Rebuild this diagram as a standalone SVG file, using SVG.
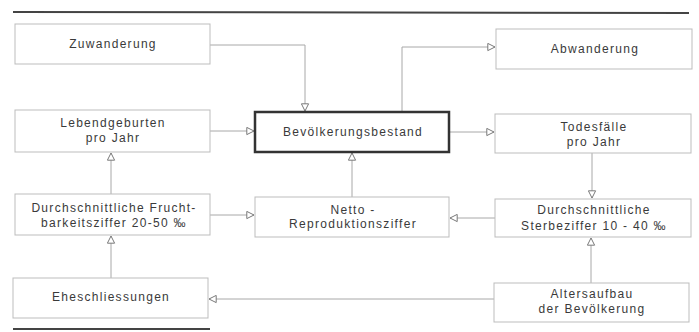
<svg xmlns="http://www.w3.org/2000/svg" width="699" height="332" viewBox="0 0 699 332">
<defs>
<style>
.box{fill:#fff;stroke:#bdbdbd;stroke-width:1}
.main{fill:#fff;stroke:#333;stroke-width:2.5}
.t{font-family:"Liberation Sans",Arial,sans-serif;font-size:12px;letter-spacing:1.3px;fill:#3a3a3a;text-anchor:middle}
.c{fill:none;stroke:#a8a8a8;stroke-width:1}
.rule{stroke:#444;stroke-width:2}
</style>
<marker id="a" viewBox="0 0 10 10" refX="9" refY="5" markerWidth="9" markerHeight="9" markerUnits="userSpaceOnUse" orient="auto">
<path d="M1,1 L9,5 L1,9 Z" fill="#fff" stroke="#777" stroke-width="1.1"/>
</marker>
</defs>
<rect width="699" height="332" fill="#fff"/>
<line class="rule" x1="13" y1="12" x2="689" y2="13"/>
<line class="rule" x1="13" y1="329" x2="210" y2="329"/>
<g id="connectors">
<path class="c" d="M210,45 H305 V111" marker-end="url(#a)"/>
<path class="c" d="M402,112 V47 H495" marker-end="url(#a)"/>
<path class="c" d="M210,131 H254" marker-end="url(#a)"/>
<path class="c" d="M450,132 H494" marker-end="url(#a)"/>
<path class="c" d="M592,153 V198" marker-end="url(#a)"/>
<path class="c" d="M352,197 V153" marker-end="url(#a)"/>
<path class="c" d="M111,194 V153" marker-end="url(#a)"/>
<path class="c" d="M210,215 H254" marker-end="url(#a)"/>
<path class="c" d="M495,218 H450" marker-end="url(#a)"/>
<path class="c" d="M111,278 V236" marker-end="url(#a)"/>
<path class="c" d="M591,283 V238" marker-end="url(#a)"/>
<path class="c" d="M494,299 H209" marker-end="url(#a)"/>
</g>
<g id="zuwanderung"><rect class="box" x="15" y="24" width="195" height="40"/><text class="t" x="113" y="48">Zuwanderung</text></g>
<g id="abwanderung"><rect class="box" x="496" y="29" width="196" height="40"/><text class="t" x="595" y="53">Abwanderung</text></g>
<g id="lebendgeburten"><rect class="box" x="15" y="110" width="195" height="42"/><text class="t" x="113" y="127">Lebendgeburten</text><text class="t" x="113" y="142">pro Jahr</text></g>
<g id="bevoelkerungsbestand"><rect class="main" x="255" y="112" width="194" height="40"/><text class="t" x="353" y="136">Bevölkerungsbestand</text></g>
<g id="todesfaelle"><rect class="box" x="495" y="114" width="196" height="39"/><text class="t" x="594" y="131">Todesfälle</text><text class="t" x="594" y="146">pro Jahr</text></g>
<g id="fruchtbarkeit"><rect class="box" x="15" y="194" width="195" height="41"/><text class="t" x="114" y="212">Durchschnittliche Frucht-</text><text class="t" x="114" y="227">barkeitsziffer 20-50 ‰</text></g>
<g id="netto"><rect class="box" x="255" y="197" width="194" height="40"/><text class="t" x="353" y="214">Netto -</text><text class="t" x="353" y="228">Reproduktionsziffer</text></g>
<g id="sterbeziffer"><rect class="box" x="495" y="199" width="196" height="38"/><text class="t" x="594" y="214">Durchschnittliche</text><text class="t" x="594" y="230">Sterbeziffer 10 - 40 ‰</text></g>
<g id="eheschliessungen"><rect class="box" x="13" y="278" width="195" height="40"/><text class="t" x="111" y="301">Eheschliessungen</text></g>
<g id="altersaufbau"><rect class="box" x="494" y="283" width="195" height="39"/><text class="t" x="592" y="298">Altersaufbau</text><text class="t" x="592" y="313">der Bevölkerung</text></g>
</svg>
